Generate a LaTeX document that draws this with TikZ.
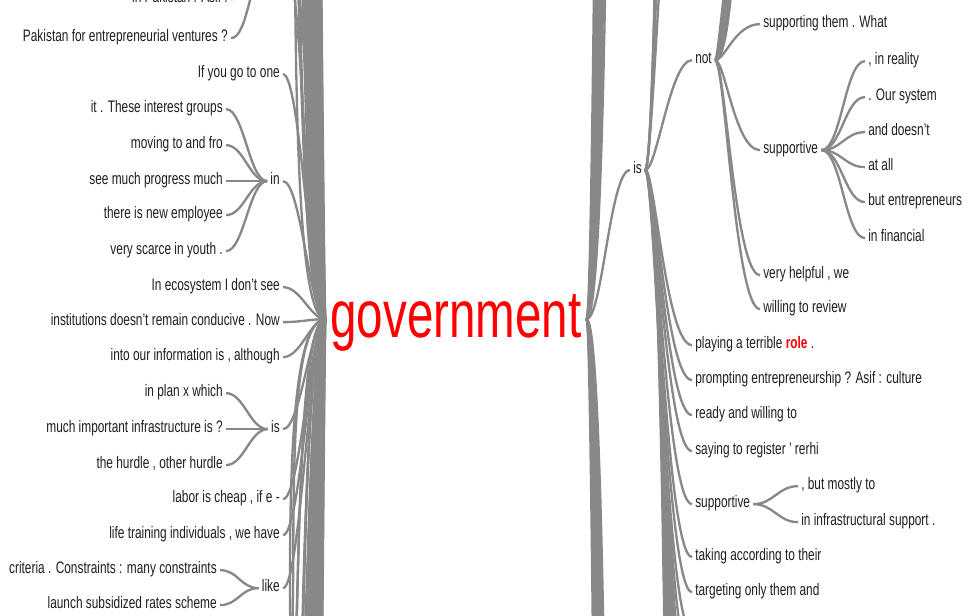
\documentclass[tikz,border=0pt]{standalone}
\usepackage{fontspec}
\setmainfont{Liberation Sans}
\usepackage{graphicx}
\definecolor{lgray}{HTML}{888888}
\definecolor{txt}{HTML}{1E1E1E}
\newcommand\nar[1]{\scalebox{0.713}[1]{#1}}
\begin{document}
\begin{tikzpicture}[x=0.75pt,y=-0.75pt,
  ln/.style={draw=lgray,line width=1.75pt},
  lbl/.style={inner xsep=2.25pt,inner ysep=0pt,text height=8.6pt,text depth=3.2pt,
    font=\fontsize{12.5pt}{14pt}\selectfont,text=txt},
  lt/.style={lbl,anchor=east},
  rt/.style={lbl,anchor=west}]
\useasboundingbox (0,0) rectangle (967,616);
\clip (0,0) rectangle (967,616);
\begin{scope}[yshift=-1.6pt]
% root
\node[font=\fontsize{50pt}{56pt}\selectfont,text=red,inner xsep=3.5pt,inner ysep=0pt,
  text height=28pt,text depth=0pt] (gov) at (456,317) {\nar{government}};

% ---------- left side ----------
\node[lt] (ptop) at (231,-3) {\nar{in Pakistan . Asif :}};
\node[lt] (pak) at (231,36) {\nar{Pakistan for entrepreneurial ventures ?}};
\coordinate (ppw) at (268,-36);
\coordinate (ppe) at (286,-36);

\node[lt] (b1) at (283,72) {\nar{If you go to one}};
\node[lt] (in) at (283,179) {\nar{in}};
\node[lt] (b3) at (283,285) {\nar{In ecosystem I don't see}};
\node[lt] (b4) at (283,320) {\nar{institutions doesn't remain conducive . Now}};
\node[lt] (b5) at (283,355) {\nar{into our information is , although}};
\node[lt] (lis) at (283,427) {\nar{is}};
\node[lt] (b7) at (283,497) {\nar{labor is cheap , if e -}};
\node[lt] (b8) at (283,533) {\nar{life training individuals , we have}};
\node[lt] (like) at (283,586) {\nar{like}};

\node[lt] (a1) at (226,107) {\nar{it . These interest groups}};
\node[lt] (a2) at (226,143) {\nar{moving to and fro}};
\node[lt] (a3) at (226,179) {\nar{see much progress much}};
\node[lt] (a4) at (226,213) {\nar{there is new employee}};
\node[lt] (a5) at (226,249) {\nar{very scarce in youth .}};
\node[lt] (a6) at (226,391) {\nar{in plan x which}};
\node[lt] (a7) at (226,427) {\nar{much important infrastructure is ?}};
\node[lt] (a8) at (226,463) {\nar{the hurdle , other hurdle}};
\node[lt] (a9) at (220,568) {\nar{criteria . Constraints : many constraints}};
\node[lt] (a10) at (220,603) {\nar{launch subsidized rates scheme}};

\foreach \n in {ptop,pak} \draw[ln] (\n.east) .. controls +(18,0) and +(-18,0) .. (ppw);
\foreach \n in {a1,a2,a3,a4,a5} \draw[ln] (\n.east) .. controls +(18,0) and +(-18,0) .. (in.west);
\foreach \n in {a6,a7,a8} \draw[ln] (\n.east) .. controls +(18,0) and +(-18,0) .. (lis.west);
\foreach \n in {a9,a10} \draw[ln] (\n.east) .. controls +(18,0) and +(-18,0) .. (like.west);
\foreach \n in {b1,in,b3,b4,b5,lis,b7,b8,like}
  \draw[ln] (\n.east) .. controls +(18,0) and +(-15,0) .. (gov.west);
\draw[ln] (ppe) .. controls +(18,0) and +(-20,0) .. (gov.west);

% left bundle, branches that lie outside the picture
\foreach \yy/\dd [count=\i] in {-80/10,-150/30,-250/45}{
  \coordinate (lv\i) at (286,\yy);
  \draw[ln] (lv\i) .. controls +(18,0) and +(-\dd,0) .. (gov.west);}
\foreach \i in {1,...,30}{
  \pgfmathsetmacro\yy{-400-130*\i}
  \pgfmathsetmacro\dd{mod(\i*13,44)+3}
  \coordinate (lu\i) at (286,\yy);
  \draw[ln] (lu\i) .. controls +(18,0) and +(-\dd,0) .. (gov.west);}
\foreach \yy/\dd [count=\i] in {660/50,720/35,820/60,950/20,1100/45}{
  \coordinate (lw\i) at (286,\yy);
  \draw[ln] (lw\i) .. controls +(18,0) and +(-\dd,0) .. (gov.west);}
\foreach \i in {1,...,30}{
  \pgfmathsetmacro\yy{1200+130*\i}
  \pgfmathsetmacro\dd{mod(\i*17,46)+2}
  \coordinate (ld\i) at (286,\yy);
  \draw[ln] (ld\i) .. controls +(18,0) and +(-\dd,0) .. (gov.west);}

% ---------- right side ----------
\node[rt] (ris) at (630,168) {\nar{is}};
\node[rt] (not) at (692,58) {\nar{not}};
\node[rt] (r1) at (760,22) {\nar{supporting them . What}};
\node[rt] (sup1) at (760,148) {\nar{supportive}};
\node[rt] (r3) at (760,273) {\nar{very helpful , we}};
\node[rt] (r4) at (760,307) {\nar{willing to review}};
\node[rt] (s1) at (865,59) {\nar{, in reality}};
\node[rt] (s2) at (865,95) {\nar{. Our system}};
\node[rt] (s3) at (865,130) {\nar{and doesn't}};
\node[rt] (s4) at (865,165) {\nar{at all}};
\node[rt] (s5) at (865,200) {\nar{but entrepreneurs}};
\node[rt] (s6) at (865,236) {\nar{in financial}};
\node[rt] (q1) at (692,343) {\nar{playing a terrible \textcolor{red}{\textbf{role}} .}};
\node[rt] (q2) at (692,378) {\nar{prompting entrepreneurship ? Asif : culture}};
\node[rt] (q3) at (692,413) {\nar{ready and willing to}};
\node[rt] (q4) at (692,449) {\nar{saying to register ' rerhi}};
\node[rt] (sup2) at (692,502) {\nar{supportive}};
\node[rt] (t1) at (798,484) {\nar{, but mostly to}};
\node[rt] (t2) at (798,520) {\nar{in infrastructural support .}};
\node[rt] (q6) at (692,555) {\nar{taking according to their}};
\node[rt] (q7) at (692,590) {\nar{targeting only them and}};

\draw[ln] (gov.east) .. controls +(16,0) and +(-20,0) .. (ris.west);
\draw[ln] (ris.east) .. controls +(12,0) and +(-22,0) .. (not.west);
\foreach \n in {r1,sup1,r3,r4} \draw[ln] (not.east) .. controls +(10,0) and +(-25,0) .. (\n.west);
\foreach \n in {s1,s2,s3,s4,s5,s6} \draw[ln] (sup1.east) .. controls +(20,0) and +(-20,0) .. (\n.west);
\foreach \n in {q1,q2,q3,q4,sup2,q6,q7} \draw[ln] (ris.east) .. controls +(10,0) and +(-26,0) .. (\n.west);
\foreach \n in {t1,t2} \draw[ln] (sup2.east) .. controls +(20,0) and +(-20,0) .. (\n.west);

% right bundle of the root
\foreach \i in {1,...,12}{
  \pgfmathsetmacro\yy{-300-250*\i}
  \pgfmathsetmacro\dd{mod(\i*7,22)+10}
  \coordinate (ru\i) at (620,\yy);
  \draw[ln] (ru\i) .. controls +(-15,0) and +(\dd,0) .. (gov.east);}
\foreach \i in {1,...,12}{
  \pgfmathsetmacro\yy{950+250*\i}
  \pgfmathsetmacro\dd{mod(\i*5,22)+10}
  \coordinate (rd\i) at (620,\yy);
  \draw[ln] (rd\i) .. controls +(-15,0) and +(\dd,0) .. (gov.east);}
% bundle of "is"
\foreach \yy/\dd [count=\i] in {-300/9,-600/12,-1000/15,-1500/18}{
  \coordinate (iu\i) at (692,\yy);
  \draw[ln] (iu\i) .. controls +(-25,0) and +(\dd,0) .. (ris.east);}
\foreach \yy/\dd [count=\i] in {630/10,665/12,700/14,740/16,800/18,880/20,980/22,1100/24,1300/26,1600/28,1900/30,2300/32}{
  \coordinate (id\i) at (692,\yy);
  \draw[ln] (ris.east) .. controls +(\dd,0) and +(-26,0) .. (id\i);}
% bundle of "not"
\foreach \yy/\dd [count=\i] in {-150/5,-300/12,-450/20,-600/28,-800/36,-1000/44,-1300/50}{
  \coordinate (nu\i) at (757,\yy);
  \draw[ln] (not.east) .. controls +(\dd,0) and +(-25,0) .. (nu\i);}
\end{scope}
\end{tikzpicture}
\end{document}
